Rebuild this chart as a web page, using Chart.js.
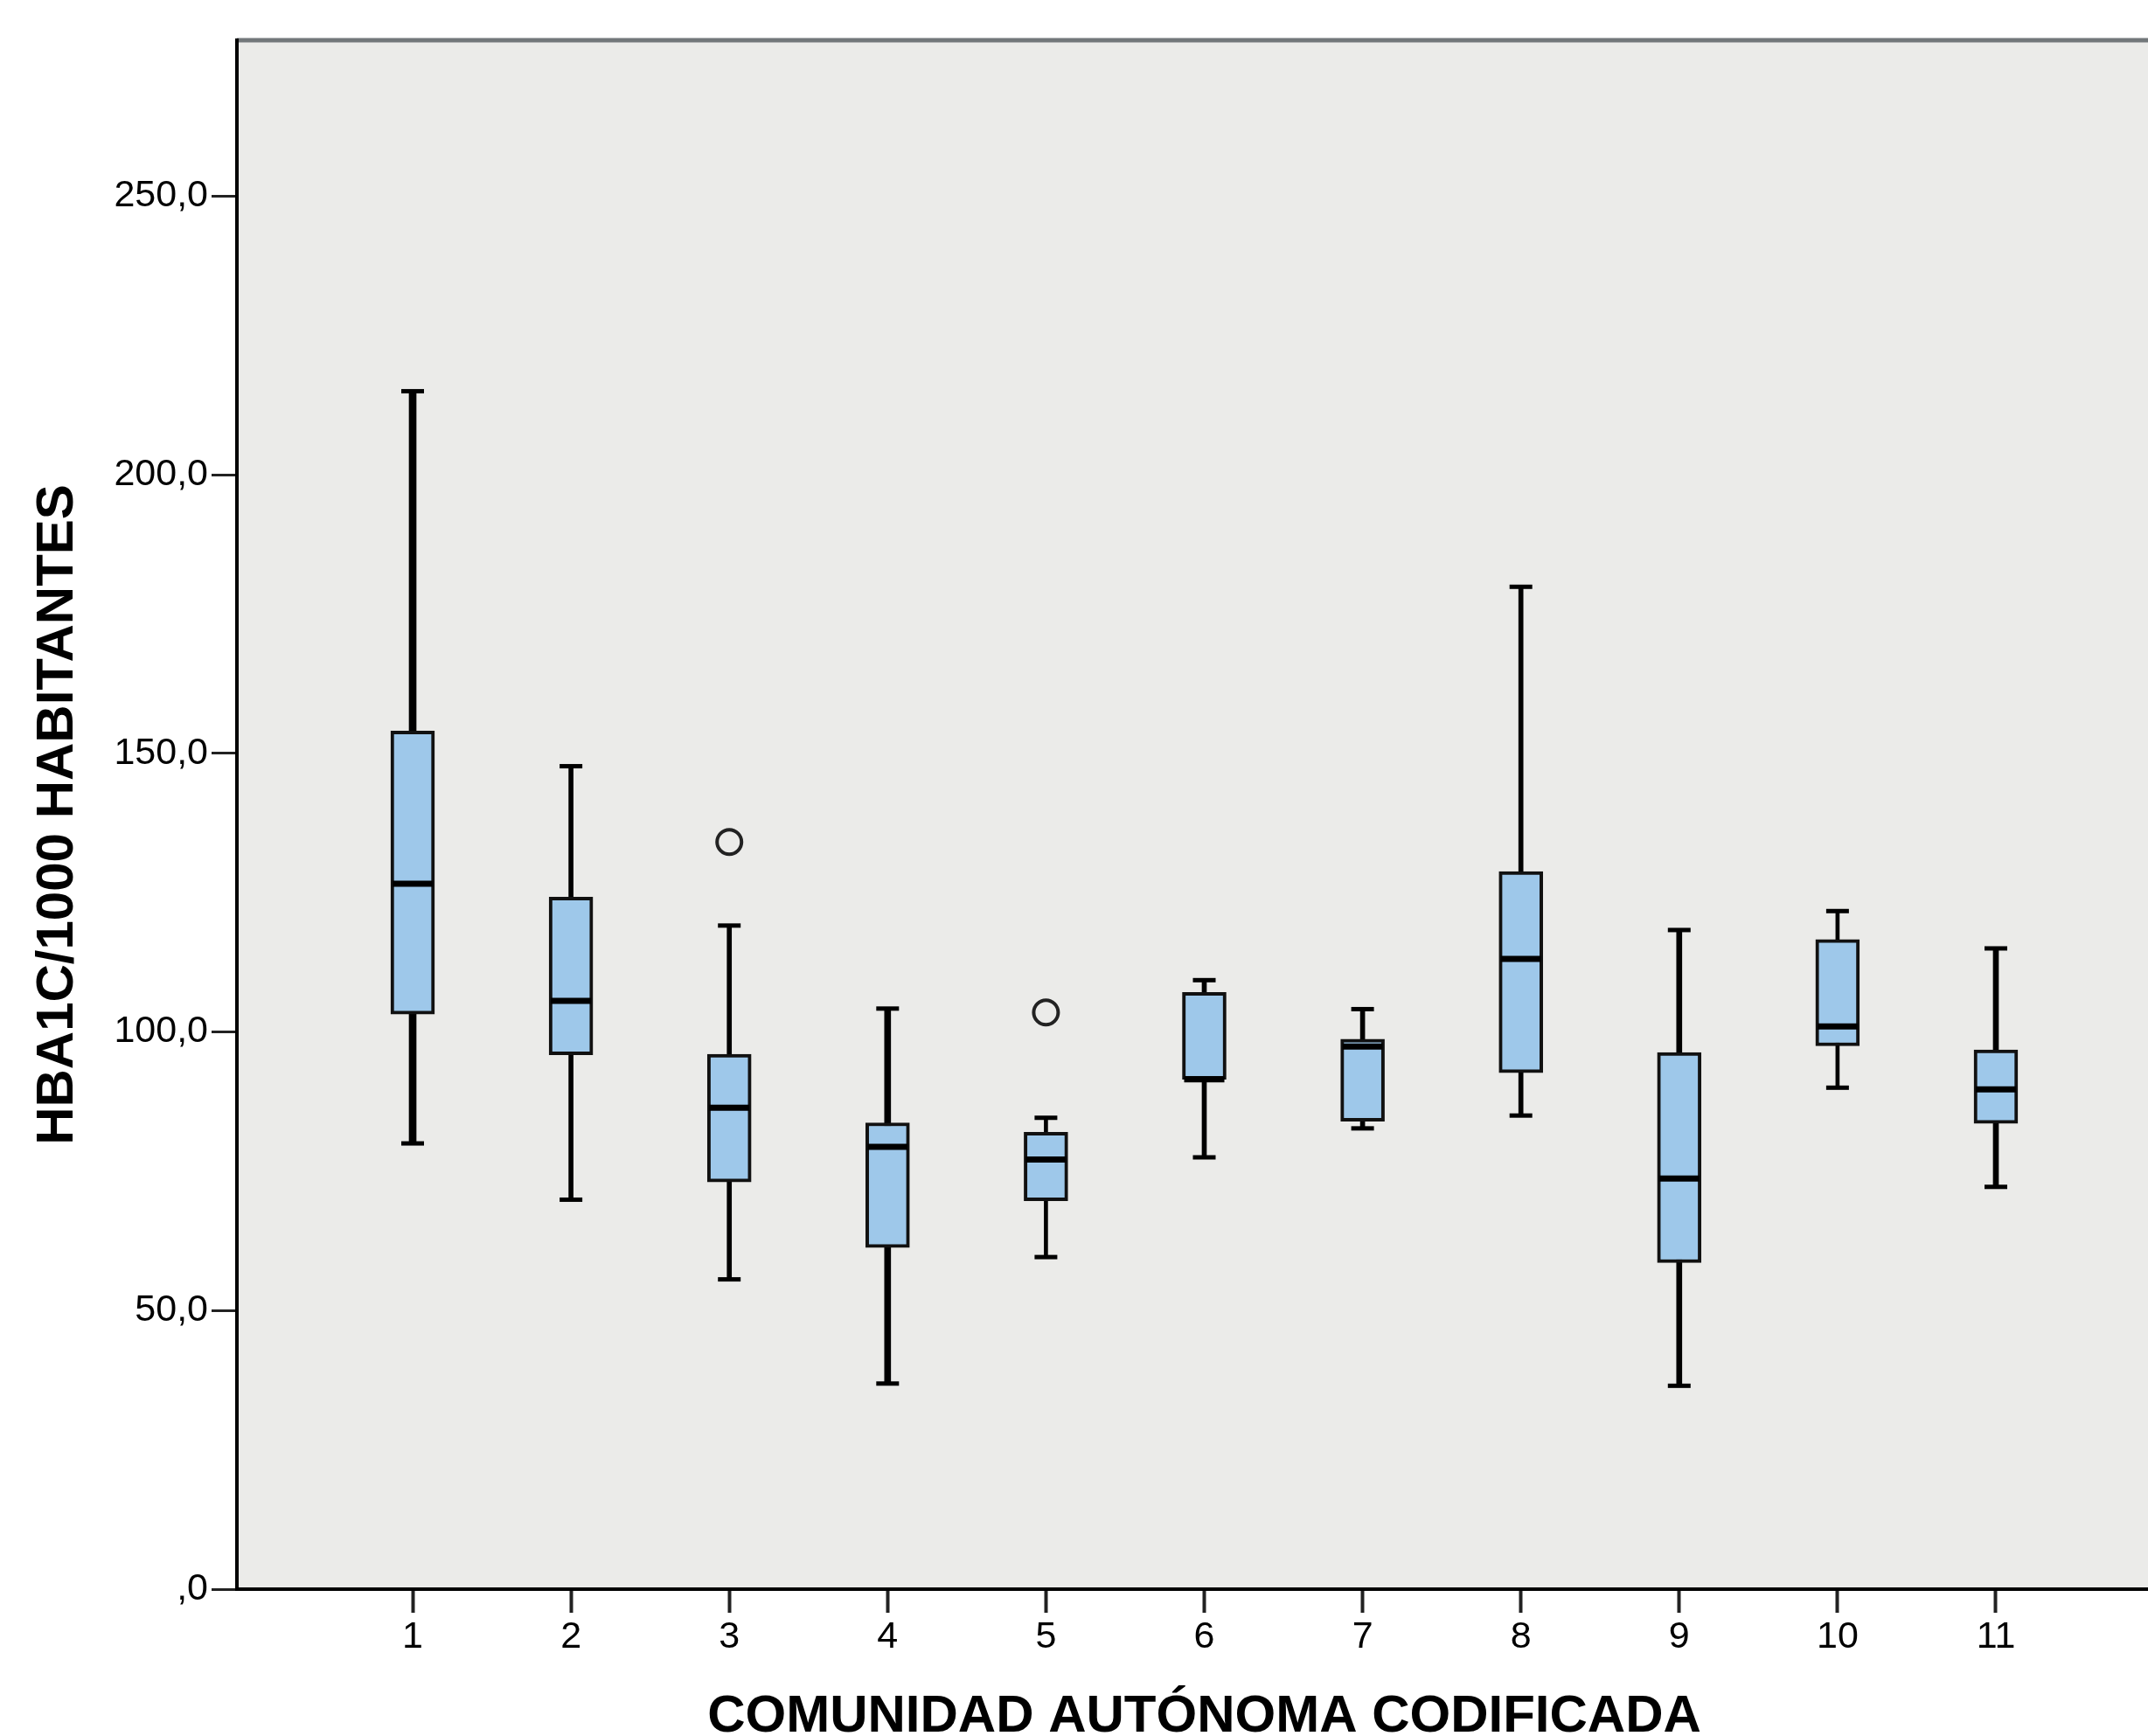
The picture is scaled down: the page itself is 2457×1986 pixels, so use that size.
<!DOCTYPE html>
<html lang="es">
<head>
  <meta charset="UTF-8">
  <title>HBA1C por comunidad autónoma</title>
  <script src="https://cdn.jsdelivr.net/npm/chart.js"></script>
  <style>
    html, body {
      margin: 0;
      padding: 0;
      background: #fff;
      overflow: hidden;
    }
    /* the plot runs a little past the window, as in the original picture */
    #chart {
      position: absolute;
      left: 0;
      top: 0;
    }
  </style>
</head>
<body>
  <canvas id="chart" width="2490" height="2004"></canvas>

  <script>
    // Box plot values
    const comunidades = [1, 2, 3, 4, 5, 6, 7, 8, 9, 10, 11];
    const minimos  = [80.0, 69.9, 55.6, 36.9, 59.6, 77.5, 82.7, 85.0, 36.5, 90.0, 72.2];
    const q1       = [103.2, 95.9, 73.1, 61.3, 69.7, 91.5, 84.0, 92.7, 58.6, 97.5, 83.6];
    const medianas = [126.6, 105.6, 86.4, 79.4, 77.1, 91.5, 97.4, 113.1, 73.7, 101.0, 89.7];
    const q3       = [154.0, 124.2, 96.0, 83.7, 82.0, 107.1, 98.7, 128.8, 96.3, 116.6, 96.8];
    const maximos  = [215.0, 147.7, 119.1, 104.2, 84.6, 109.3, 104.1, 179.9, 118.3, 121.7, 115.0];
    // outliers
    const atipicosCom = [3, 5];
    const atipicosVal = [134.1, 103.5];
    const yTicks = [0, 50, 100, 150, 200, 250];

    // whisker line thickness per box (px)
    const grosorBigote = [8, 5, 5, 7, 4, 5, 5, 5, 6, 4, 6];

    const fuente = 'Liberation Sans, Arial, sans-serif';
    Chart.defaults.font.family = fuente;

    // plot background + top/right frame
    const fondo = {
      id: 'fondo',
      beforeDraw(chart) {
        const { ctx, chartArea: a } = chart;
        ctx.save();
        ctx.fillStyle = '#ebebe9';
        ctx.fillRect(a.left, a.top, a.right - a.left, a.bottom - a.top);
        ctx.strokeStyle = '#72777a';
        ctx.lineWidth = 5;
        ctx.beginPath();
        ctx.moveTo(a.left, a.top);
        ctx.lineTo(a.right, a.top);
        ctx.lineTo(a.right, a.bottom);
        ctx.stroke();
        ctx.restore();
      }
    };

    const bigotes = comunidades.map((c, i) => ({
      type: 'bar',
      data: [{ x: c, y: [minimos[i], maximos[i]] }],
      backgroundColor: '#000',
      borderWidth: 0,
      barThickness: grosorBigote[i],
      grouped: false,
      order: 5
    }));

    const cajas = {
      type: 'bar',
      data: comunidades.map((c, i) => ({ x: c, y: [q1[i], q3[i]] })),
      backgroundColor: '#9ec8ea',
      borderColor: '#111',
      borderWidth: 4,
      borderSkipped: false,
      barThickness: 50,
      grouped: false,
      order: 4
    };

    const lineasMediana = {
      type: 'scatter',
      data: comunidades.map((c, i) => ({ x: c, y: medianas[i] })),
      pointStyle: 'line',
      radius: 23,
      borderWidth: 7,
      borderColor: '#000',
      order: 3
    };

    const topes = {
      type: 'scatter',
      data: comunidades.map((c, i) => ({ x: c, y: minimos[i] }))
        .concat(comunidades.map((c, i) => ({ x: c, y: maximos[i] }))),
      pointStyle: 'line',
      radius: 13,
      borderWidth: 5,
      borderColor: '#000',
      order: 2
    };

    const atipicos = {
      type: 'scatter',
      data: atipicosCom.map((c, i) => ({ x: c, y: atipicosVal[i] })),
      pointStyle: 'circle',
      radius: 14,
      borderWidth: 4,
      borderColor: '#222',
      backgroundColor: 'rgba(0,0,0,0)',
      order: 1
    };

    new Chart(document.getElementById('chart'), {
      type: 'scatter',
      data: {
        datasets: [...bigotes, cajas, lineasMediana, topes, atipicos]
      },
      options: {
        responsive: false,
        animation: false,
        layout: {
          autoPadding: false,
          padding: { top: 46, right: 6, left: 0, bottom: 0 }
        },
        plugins: {
          legend: { display: false },
          tooltip: { enabled: false }
        },
        scales: {
          x: {
            type: 'linear',
            min: -0.11,
            max: 12.11,
            offset: false,
            afterBuildTicks: s => { s.ticks = comunidades.map(v => ({ value: v })); },
            afterFit: s => { s.height = 186; },
            grid: {
              offset: false,
              drawOnChartArea: false,
              tickLength: 27,
              tickWidth: 4,
              tickColor: '#222'
            },
            border: { display: true, color: '#000', width: 4 },
            ticks: {
              color: '#000',
              font: { size: 43 },
              padding: 2,
              maxRotation: 0,
              autoSkip: false
            },
            title: {
              display: true,
              text: 'COMUNIDAD AUTÓNOMA CODIFICADA',
              color: '#000',
              font: { size: 60, weight: 'bold' },
              padding: { top: 0, bottom: 4 }
            }
          },
          y: {
            min: 0,
            max: 278,
            afterBuildTicks: s => { s.ticks = yTicks.map(v => ({ value: v })); },
            afterFit: s => { s.width = 271; },
            grid: {
              drawOnChartArea: false,
              tickLength: 29,
              tickWidth: 3,
              tickColor: '#222'
            },
            border: { display: true, color: '#000', width: 4 },
            ticks: {
              color: '#000',
              font: { size: 43 },
              padding: 4,
              callback: v => v === 0 ? ',0' : v.toFixed(1).replace('.', ',')
            },
            title: {
              display: true,
              text: 'HBA1C/1000 HABITANTES',
              color: '#000',
              font: { size: 60, weight: 'bold' },
              padding: { top: 30, bottom: 0 }
            }
          }
        }
      },
      plugins: [fondo]
    });
  </script>
</body>
</html>
